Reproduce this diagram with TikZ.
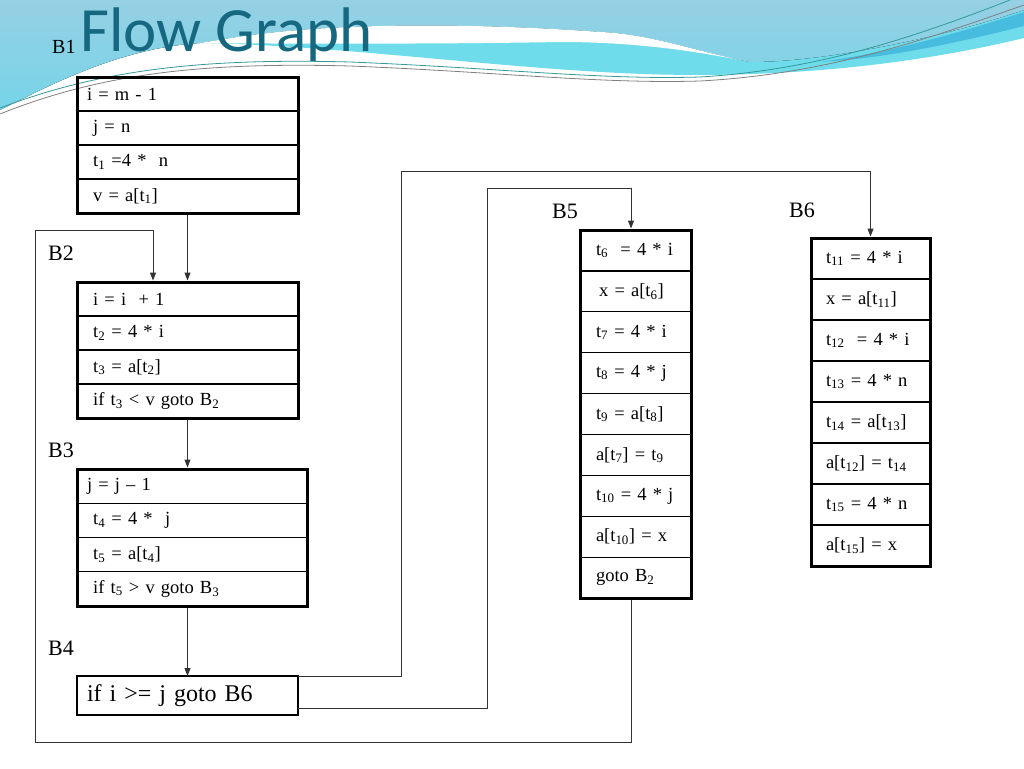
\documentclass[tikz,border=0pt]{standalone}
\usepackage{fontspec}
\setmainfont{Liberation Serif}
\newfontfamily\titlefont{Carlito}
\usetikzlibrary{positioning,fit,arrows.meta}
\definecolor{titleteal}{RGB}{22,104,128}
\definecolor{skyhi}{RGB}{150,208,228}
\definecolor{skylo}{RGB}{118,212,232}
\definecolor{bandcyan}{RGB}{110,220,234}
\definecolor{deepband}{RGB}{72,188,222}
\definecolor{linkgray}{HTML}{333333}
\newcommand\cellfont{\fontsize{18.5}{22}\selectfont}
\newcommand\labfont{\fontsize{22}{26}\selectfont}

\begin{document}
\begin{tikzpicture}[x=1pt,y=-1pt,
  cell/.style={draw, line width=1.2pt, inner xsep=0pt, inner ysep=0pt, outer sep=0pt,
    align=left, text width=#1, minimum height=34pt, font=\cellfont},
  pad/.style={execute at begin node={\hspace*{#1}}},
  frame/.style={draw, line width=3pt, inner sep=0pt},
  blabel/.style={anchor=base west, inner sep=0pt, font=\labfont},
  link/.style={draw=linkgray, line width=1pt, -{Triangle[length=8pt,width=6pt]}}]
\useasboundingbox (0,0) rectangle (1024,768);
\fill[white] (0,0) rectangle (1024,768);
% background waves
\fill[bandcyan] (0,0) -- (1024,0) -- (1024,38) .. controls (900,68) and (760,80) .. (620,73)
  .. controls (480,66) and (330,45) .. (200,43) .. controls (120,48) and (50,85) .. (0,110) -- cycle;
\fill[top color=skyhi, bottom color=skylo] (0,0) -- (1024,0) -- (1024,10)
  .. controls (950,35) and (830,62) .. (750,62) .. controls (690,50) and (650,34) .. (600,32)
  .. controls (520,26) and (400,22) .. (300,30) .. controls (250,34) and (220,40) .. (200,43)
  .. controls (120,48) and (50,85) .. (0,110) -- cycle;
\fill[white] (750,62) .. controls (690,50) and (650,34) .. (600,32)
  .. controls (520,26) and (400,22) .. (300,30) .. controls (250,34) and (220,40) .. (200,43)
  .. controls (300,44) and (450,44) .. (560,42) .. controls (640,42) and (700,52) .. (750,62) -- cycle;
\fill[deepband] (1024,12) .. controls (950,36) and (880,54) .. (820,62)
  .. controls (890,58) and (960,42) .. (1024,26) -- cycle;
\draw[teal!80, line width=0.8pt] (0,108) .. controls (100,70) and (200,58) .. (350,62)
  .. controls (500,68) and (600,80) .. (700,77) .. controls (820,70) and (920,35) .. (1010,0);
\draw[gray, line width=0.8pt] (0,114) .. controls (100,74) and (200,62) .. (350,66)
  .. controls (500,72) and (600,84) .. (700,81) .. controls (830,74) and (930,38) .. (1024,5);

% title and block labels
\node[blabel, font=\fontsize{20}{24}\selectfont] (lb1) at (52,53) {B1};
\node[anchor=base west, inner sep=0pt, text=titleteal, font=\titlefont\fontsize{63}{70}\selectfont] (title) at (80,52) {Flow Graph};
\node[blabel] (lb2) at (48,260) {B2};
\node[blabel] (lb3) at (48,457) {B3};
\node[blabel] (lb4) at (48,655) {B4};
\node[blabel] (lb5) at (552,218) {B5};
\node[blabel] (lb6) at (789,217) {B6};

% B1
\tikzset{cellone/.style={cell=221pt, pad=10pt}}
\node[cellone, anchor=north west] (b1r1) at (77,77) {i = m - 1};
\node[cellone, below=0pt of b1r1] (b1r2) {\ j = n};
\node[cellone, below=0pt of b1r2] (b1r3) {\ t\textsubscript{1} =4 *\ \ n};
\node[cellone, below=0pt of b1r3] (b1r4) {\ v = a[t\textsubscript{1}]};
\node[frame, fit=(b1r1)(b1r4)] (b1) {};

% B2
\node[cellone, anchor=north west] (b2r1) at (77,282) {\ i = i\ \ + 1};
\node[cellone, below=0pt of b2r1] (b2r2) {\ t\textsubscript{2} = 4 * i};
\node[cellone, below=0pt of b2r2] (b2r3) {\ t\textsubscript{3} = a[t\textsubscript{2}]};
\node[cellone, below=0pt of b2r3] (b2r4) {\ if t\textsubscript{3} < v goto B\textsubscript{2}};
\node[frame, fit=(b2r1)(b2r4)] (b2) {};

% B3
\tikzset{cellthree/.style={cell=230pt, pad=10pt, minimum height=34.25pt}}
\node[cellthree, anchor=north west] (b3r1) at (77,469) {j = j -- 1};
\node[cellthree, below=0pt of b3r1] (b3r2) {\ t\textsubscript{4} = 4 *\ \ j};
\node[cellthree, below=0pt of b3r2] (b3r3) {\ t\textsubscript{5} = a[t\textsubscript{4}]};
\node[cellthree, below=0pt of b3r3] (b3r4) {\ if t\textsubscript{5} > v goto B\textsubscript{3}};
\node[frame, fit=(b3r1)(b3r4)] (b3) {};

% B4
\node[cell=221pt, pad=10pt, minimum height=39pt, font=\fontsize{24}{28}\selectfont, anchor=north west] (b4) at (77,676) {if i >= j goto B6};

% B5
\tikzset{cellfive/.style={cell=111pt, pad=16pt, minimum height=40.9pt}}
\node[cellfive, anchor=north west] (b5r1) at (580,230) {t\textsubscript{6}\ \ = 4 * i};
\node[cellfive, below=0pt of b5r1] (b5r2) {\,x = a[t\textsubscript{6}]};
\node[cellfive, below=0pt of b5r2] (b5r3) {t\textsubscript{7} = 4 * i};
\node[cellfive, below=0pt of b5r3] (b5r4) {t\textsubscript{8} = 4 * j};
\node[cellfive, below=0pt of b5r4] (b5r5) {t\textsubscript{9} = a[t\textsubscript{8}]};
\node[cellfive, below=0pt of b5r5] (b5r6) {a[t\textsubscript{7}] = t\textsubscript{9}};
\node[cellfive, below=0pt of b5r6] (b5r7) {t\textsubscript{10} = 4 * j};
\node[cellfive, below=0pt of b5r7] (b5r8) {a[t\textsubscript{10}] = x};
\node[cellfive, below=0pt of b5r8] (b5r9) {goto B\textsubscript{2}};
\node[frame, fit=(b5r1)(b5r9)] (b5) {};

% B6
\tikzset{cellsix/.style={cell=119pt, pad=15pt, minimum height=41pt}}
\node[cellsix, anchor=north west] (b6r1) at (811,238) {t\textsubscript{11} = 4 * i};
\node[cellsix, below=0pt of b6r1] (b6r2) {x = a[t\textsubscript{11}]};
\node[cellsix, below=0pt of b6r2] (b6r3) {t\textsubscript{12}\ \ = 4 * i};
\node[cellsix, below=0pt of b6r3] (b6r4) {t\textsubscript{13} = 4 * n};
\node[cellsix, below=0pt of b6r4] (b6r5) {t\textsubscript{14} = a[t\textsubscript{13}]};
\node[cellsix, below=0pt of b6r5] (b6r6) {a[t\textsubscript{12}] = t\textsubscript{14}};
\node[cellsix, below=0pt of b6r6] (b6r7) {t\textsubscript{15} = 4 * n};
\node[cellsix, below=0pt of b6r7] (b6r8) {a[t\textsubscript{15}] = x};
\node[frame, fit=(b6r1)(b6r8)] (b6) {};

% edges
\draw[link] (b1.south) -- (b2.north);
\draw[link] (b2.south) -- (b2.south |- b3.north);
\draw[link] (b4.north |- b3.south) -- (b4.north);
\draw[link] ([xshift=-4.5pt]b5.south) |- (35,742) |- (153,230) -- (153,0 |- b2.north);
\draw[link] (b4.north east) -| (401,171) -| (b6.north);
\draw[link] ([yshift=-32pt]b4.north east) -| (487,188) -| ([xshift=-4.5pt]b5.north);
\end{tikzpicture}
\end{document}
